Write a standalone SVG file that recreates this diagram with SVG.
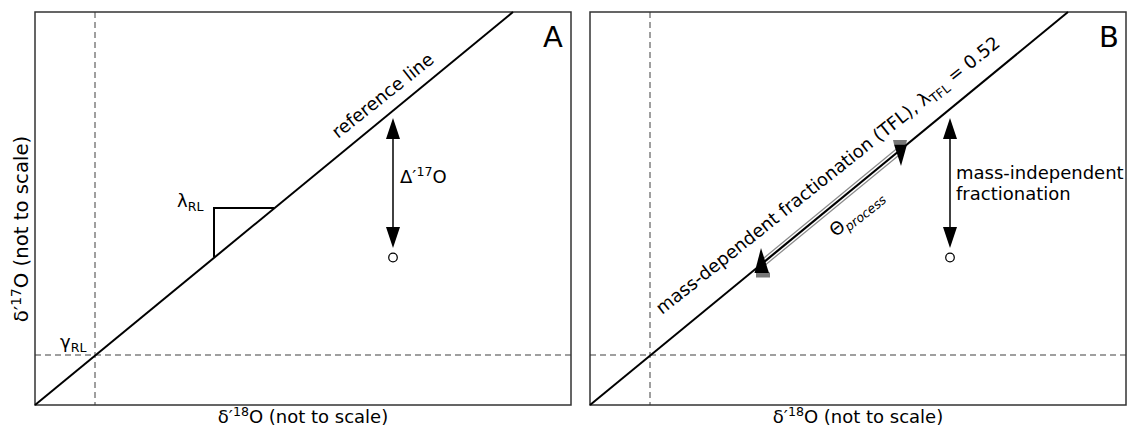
<svg xmlns="http://www.w3.org/2000/svg" width="1129" height="432" viewBox="0 0 1129 432">
<style>
text{font-family:"DejaVu Sans","Liberation Sans",sans-serif;fill:#000;}
.lab{font-size:18px;}
.big{font-size:29px;}
.sub{font-size:12.6px;}
.frame{fill:none;stroke:#333;stroke-width:1.5;}
.dash{fill:none;stroke:#808080;stroke-width:1.5;stroke-dasharray:6 4;}
.ref{fill:none;stroke:#000;stroke-width:2;}
.arr{fill:none;stroke:#111;stroke-width:1.6;}
.head{fill:#000;}
.pt{fill:#fff;stroke:#000;stroke-width:1.2;}
</style>
<rect width="1129" height="432" fill="#fff"/>

<g id="panelA">
  <line class="dash" x1="95" y1="12" x2="95" y2="405"/>
  <line class="dash" x1="35" y1="355" x2="571" y2="355"/>
  <rect class="frame" x="35" y="12" width="536" height="393"/>
  <line class="ref" x1="35" y1="405" x2="513" y2="12"/>
  <polyline class="ref" points="214,257 214,208 274,208" stroke-width="1.8"/>
  <text class="lab" x="177" y="207">λ<tspan class="sub" dy="4">RL</tspan></text>
  <text class="lab" x="60" y="348">γ<tspan class="sub" dy="4">RL</tspan></text>
  <text class="lab" transform="translate(338,139) rotate(-38.5)">reference line</text>
  <text class="lab" x="400" y="183">Δ′<tspan class="sub" dy="-7">17</tspan><tspan dy="7">O</tspan></text>
  <text class="big" x="543" y="47">A</text>
  <text class="lab" x="303" y="423" text-anchor="middle">δ′<tspan class="sub" dy="-7">18</tspan><tspan dy="7">O (not to scale)</tspan></text>
  <text class="lab" style="font-size:19.7px" transform="translate(28,229) rotate(-90)" text-anchor="middle">δ′<tspan style="font-size:13.8px" dy="-7.5">17</tspan><tspan dy="7.5">O (not to scale)</tspan></text>
  <circle class="pt" cx="393" cy="257.5" r="4.3"/>
</g>

<g id="panelB">
  <line class="dash" x1="650" y1="12" x2="650" y2="405"/>
  <line class="dash" x1="590" y1="355" x2="1126" y2="355"/>
  <rect class="frame" x="590" y="12" width="536" height="393"/>
  <line class="ref" x1="590" y1="405" x2="1068" y2="12"/>
  <text class="lab" transform="translate(662,315) rotate(-38.5)">mass-dependent fractionation (TFL), λ<tspan class="sub" dy="4">TFL</tspan><tspan dy="-4"> = 0.52</tspan></text>
  <text class="lab" transform="translate(835.5,237.5) rotate(-38.5)">Θ<tspan class="sub" font-style="italic" dy="4">process</tspan></text>
  <text class="lab" x="956" y="179">mass-independent</text>
  <text class="lab" x="956" y="199.5">fractionation</text>
  <text class="big" x="1099" y="47">B</text>
  <text class="lab" x="858" y="423" text-anchor="middle">δ′<tspan class="sub" dy="-7">18</tspan><tspan dy="7">O (not to scale)</tspan></text>
  <circle class="pt" cx="950" cy="257.5" r="4.3"/>
</g>

<g id="connectors">
  <line class="arr" x1="393" y1="138" x2="393" y2="228"/>
  <polygon class="head" points="393,118 386,139 400,139"/>
  <polygon class="head" points="393,248 386,227 400,227"/>
  <line class="arr" x1="950" y1="138" x2="950" y2="228"/>
  <polygon class="head" points="950,118 943,139 957,139"/>
  <polygon class="head" points="950,248 943,227 957,227"/>
  <line x1="763" y1="262.8" x2="899" y2="151" stroke="#8a8a8a" stroke-width="7.5"/>
  <line x1="763" y1="262.8" x2="899" y2="151" stroke="#fff" stroke-width="5"/>
  <line x1="763" y1="262.8" x2="899" y2="151" stroke="#000" stroke-width="2.2"/>
  <rect x="756" y="272.5" width="14" height="5" fill="#777"/>
  <polygon class="head" points="761,248 754.5,273 769,273"/>
  <polygon points="893,140 907,140 906,144.5 894,144.5" fill="#777"/>
  <polygon class="head" points="894,144.5 907,144.5 901,166"/>
</g>
</svg>
